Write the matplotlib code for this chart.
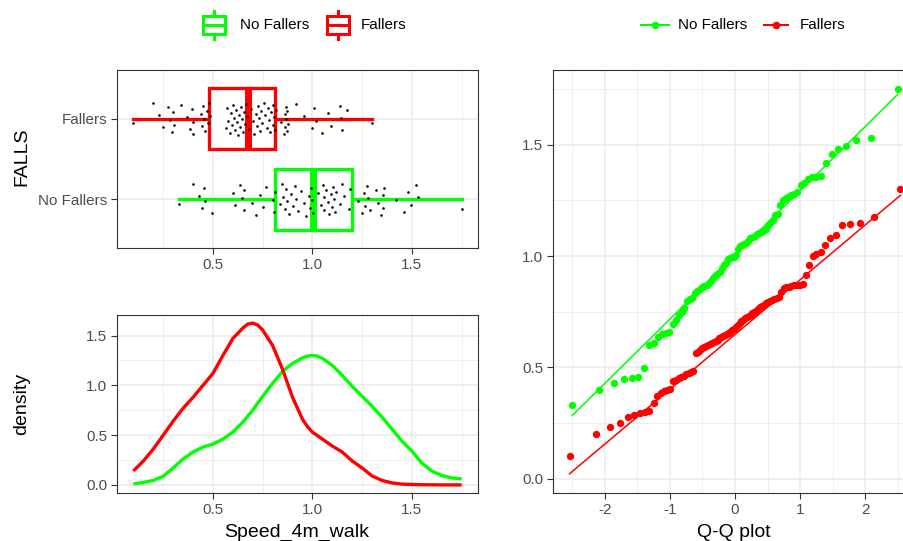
import numpy as np
import matplotlib
matplotlib.use('Agg')
import matplotlib.pyplot as plt
from matplotlib.patches import Rectangle
from statistics import NormalDist

plt.rcParams['font.family'] = ['Liberation Sans', 'DejaVu Sans']
plt.rcParams['axes.unicode_minus'] = False

groups = ['No Fallers', 'Fallers']
colors = {'No Fallers': '#00FF00', 'Fallers': '#FF0000'}

# Speed_4m_walk per group (sorted)
speed_no_fallers = [
    0.33, 0.40, 0.43, 0.447, 0.453, 0.458, 0.495, 0.60, 0.61, 0.635,
    0.648, 0.655, 0.658, 0.695, 0.715, 0.735, 0.75, 0.765, 0.80, 0.805,
    0.812, 0.835, 0.845, 0.852, 0.86, 0.865, 0.872, 0.88, 0.89, 0.90,
    0.91, 0.918, 0.93, 0.945, 0.96, 0.97, 0.985, 0.99, 0.995, 0.998,
    1.005, 1.03, 1.045, 1.052, 1.056, 1.06, 1.07, 1.08, 1.085, 1.092,
    1.10, 1.105, 1.11, 1.115, 1.12, 1.14, 1.15, 1.16, 1.185, 1.19,
    1.23, 1.25, 1.26, 1.265, 1.275, 1.28, 1.29, 1.32, 1.33, 1.345,
    1.354, 1.356, 1.36, 1.42, 1.46, 1.483, 1.494, 1.52, 1.532, 1.75]
speed_fallers = [
    0.10, 0.20, 0.23, 0.25, 0.275, 0.285, 0.295, 0.30, 0.305, 0.34,
    0.37, 0.385, 0.395, 0.40, 0.402, 0.44, 0.445, 0.45, 0.455, 0.462,
    0.47, 0.475, 0.48, 0.485, 0.565, 0.57, 0.578, 0.585, 0.59, 0.595,
    0.60, 0.605, 0.61, 0.615, 0.62, 0.625, 0.63, 0.635, 0.64, 0.645,
    0.65, 0.655, 0.66, 0.668, 0.672, 0.68, 0.69, 0.70, 0.708, 0.715,
    0.72, 0.725, 0.73, 0.736, 0.742, 0.748, 0.755, 0.762, 0.77, 0.776,
    0.782, 0.788, 0.794, 0.80, 0.803, 0.806, 0.81, 0.815, 0.84, 0.855,
    0.86, 0.863, 0.866, 0.868, 0.87, 0.872, 0.875, 0.915, 0.96, 1.00,
    1.01, 1.02, 1.05, 1.08, 1.095, 1.14, 1.145, 1.15, 1.175, 1.30]
speeds = {'No Fallers': speed_no_fallers, 'Fallers': speed_fallers}

# density curves
density_x = [0.10, 0.15, 0.20, 0.25, 0.30, 0.35, 0.40, 0.45, 0.50, 0.55,
             0.60, 0.65, 0.675, 0.70, 0.725, 0.75, 0.80, 0.85, 0.90, 0.95,
             0.975, 1.00, 1.025, 1.05, 1.10, 1.15, 1.20, 1.25, 1.30, 1.35,
             1.40, 1.45, 1.50, 1.55, 1.60, 1.65, 1.70, 1.75]
density_no_fallers = [0.01, 0.025, 0.045, 0.087, 0.17, 0.26, 0.33, 0.38, 0.41, 0.46,
                      0.53, 0.63, 0.69, 0.75, 0.82, 0.89, 1.02, 1.14, 1.22, 1.275,
                      1.293, 1.30, 1.292, 1.27, 1.20, 1.10, 0.99, 0.89, 0.79, 0.68,
                      0.56, 0.44, 0.34, 0.22, 0.14, 0.095, 0.07, 0.06]
density_fallers = [0.14, 0.24, 0.36, 0.50, 0.64, 0.77, 0.88, 1.00, 1.12, 1.30,
                   1.47, 1.575, 1.615, 1.625, 1.605, 1.555, 1.40, 1.16, 0.88, 0.66,
                   0.585, 0.53, 0.495, 0.46, 0.39, 0.33, 0.24, 0.17, 0.09, 0.045,
                   0.02, 0.008, 0.004, 0.002, 0.001, 0.0, 0.0, 0.0]
densities = {'No Fallers': density_no_fallers, 'Fallers': density_fallers}

W, H = 904, 541
fig = plt.figure(figsize=(W / 100, H / 100), dpi=100)


def px_axes(l, t, r, b):
    return fig.add_axes([l / W, 1 - b / H, (r - l) / W, (b - t) / H])


def style(ax):
    for s in ax.spines.values():
        s.set_color('#333333')
        s.set_linewidth(0.8)
    ax.tick_params(colors='#333333', labelcolor='#4D4D4D', length=4, width=0.8,
                   labelsize=11, pad=3)
    ax.tick_params(which='minor', length=0)
    ax.grid(True, which='major', color='#EBEBEB', lw=1.1)
    ax.grid(True, which='minor', color='#EBEBEB', lw=0.55)
    ax.set_axisbelow(True)


def expand(lo, hi, m=0.05):
    d = (hi - lo) * m
    return lo - d, hi + d


ax_box = px_axes(117, 70, 478, 248)
ax_den = px_axes(117, 315, 478, 493)
ax_qq = px_axes(553, 70, 917, 493)

# --- boxplot with jitter ---
bp = ax_box.boxplot([speeds[g] for g in groups], positions=[1, 2], widths=0.75,
                    orientation='horizontal', patch_artist=True, showcaps=False,
                    showfliers=False, whis=1.5)
for i, g in enumerate(groups):
    c = colors[g]
    bp['boxes'][i].set(facecolor='white', edgecolor=c, linewidth=2.4, zorder=2)
    bp['medians'][i].set(color=c, linewidth=5, solid_capstyle='butt', zorder=3)
    for w in bp['whiskers'][2 * i:2 * i + 2]:
        w.set(color=c, linewidth=2.4, zorder=1.5)
    vals = np.array(speeds[g])
    offs = ((np.arange(len(vals)) * 0.6180339887 + 0.37) % 1 - 0.5) * 0.4
    ax_box.scatter(vals, i + 1 + offs, s=3.5, c='black', lw=0, zorder=4)

allv = speed_no_fallers + speed_fallers
xlim = expand(min(allv), max(allv))
style(ax_box)
ax_box.set_xlim(xlim)
ax_box.set_ylim(0.4, 2.6)
ax_box.set_xticks([0.5, 1.0, 1.5])
ax_box.set_xticklabels(['0.5', '1.0', '1.5'])
ax_box.set_xticks([0.25, 0.75, 1.25, 1.75], minor=True)
ax_box.set_yticks([1, 2])
ax_box.set_yticklabels(groups)

# --- density ---
for g in groups:
    ax_den.plot(density_x, densities[g], color=colors[g], lw=2.4,
                solid_joinstyle='round', solid_capstyle='butt')
style(ax_den)
ax_den.set_xlim(xlim)
ax_den.set_ylim(expand(0, max(density_fallers + density_no_fallers)))
ax_den.set_xticks([0.5, 1.0, 1.5])
ax_den.set_xticklabels(['0.5', '1.0', '1.5'])
ax_den.set_xticks([0.25, 0.75, 1.25, 1.75], minor=True)
ax_den.set_yticks([0.0, 0.5, 1.0, 1.5])
ax_den.set_yticklabels(['0.0', '0.5', '1.0', '1.5'])
ax_den.set_yticks([0.25, 0.75, 1.25], minor=True)

# --- Q-Q plot ---
nd = NormalDist()
qq = {}
for g in groups:
    vals = np.array(speeds[g])
    n = len(vals)
    theo = np.array([nd.inv_cdf((k + 0.5) / n) for k in range(n)])
    q1, q3 = np.percentile(vals, [25, 75])
    slope = (q3 - q1) / (nd.inv_cdf(0.75) - nd.inv_cdf(0.25))
    icpt = q1 - slope * nd.inv_cdf(0.25)
    qq[g] = (theo, vals, slope, icpt)
for g in groups:
    theo, vals, _, _ = qq[g]
    ax_qq.scatter(theo, vals, s=28, color=colors[g], lw=0, zorder=3)
ys = []
for g in groups:
    theo, vals, slope, icpt = qq[g]
    lx = np.array([theo.min(), theo.max()])
    ax_qq.plot(lx, icpt + slope * lx, color=colors[g], lw=1.1, zorder=4)
    ys += list(vals) + list(icpt + slope * lx)
tx = np.concatenate([qq[g][0] for g in groups])
style(ax_qq)
ax_qq.set_xlim(expand(tx.min(), tx.max()))
ax_qq.set_ylim(expand(min(ys), max(ys)))
ax_qq.set_xticks([-2, -1, 0, 1, 2])
ax_qq.set_xticks([-2.5, -1.5, -0.5, 0.5, 1.5, 2.5], minor=True)
ax_qq.set_yticks([0.0, 0.5, 1.0, 1.5])
ax_qq.set_yticklabels(['0.0', '0.5', '1.0', '1.5'])
ax_qq.set_yticks([0.25, 0.75, 1.25, 1.75], minor=True)

# --- axis titles ---
fig.text(22 / W, 1 - 157 / H, 'FALLS', rotation=90, ha='center', va='center', fontsize=14)
fig.text(22 / W, 1 - 404 / H, 'density', rotation=90, ha='center', va='center', fontsize=14)
fig.text(297 / W, 1 - 537 / H, 'Speed_4m_walk', ha='center', va='baseline', fontsize=14)
fig.text(734 / W, 1 - 537 / H, 'Q-Q plot', ha='center', va='baseline', fontsize=14)

# --- legends (drawn in pixel space) ---
lg = fig.add_axes([0, 0, 1, 1])
lg.set_xlim(0, W)
lg.set_ylim(H, 0)
lg.axis('off')
ly = 25
for cx, tx0, g in [(214, 240, 'No Fallers'), (338, 361, 'Fallers')]:
    c = colors[g]
    lg.add_patch(Rectangle((cx - 11, ly - 9), 22, 18, fc='white', ec=c, lw=2.2))
    lg.plot([cx, cx], [ly - 14, ly - 9], color=c, lw=2.2)
    lg.plot([cx, cx], [ly + 9, ly + 14], color=c, lw=2.2)
    lg.plot([cx - 11, cx + 11], [ly, ly], color=c, lw=2.2)
    lg.text(tx0, ly, g, va='center', ha='left', fontsize=11)
for x0, x1, tx0, g in [(641, 669, 678, 'No Fallers'), (764, 788, 800, 'Fallers')]:
    c = colors[g]
    lg.plot([x0, x1], [ly, ly], color=c, lw=1.5)
    lg.plot([(x0 + x1) / 2], [ly], 'o', color=c, ms=5.5, mew=0)
    lg.text(tx0, ly, g, va='center', ha='left', fontsize=11)

fig.savefig('out.png', dpi=100)
